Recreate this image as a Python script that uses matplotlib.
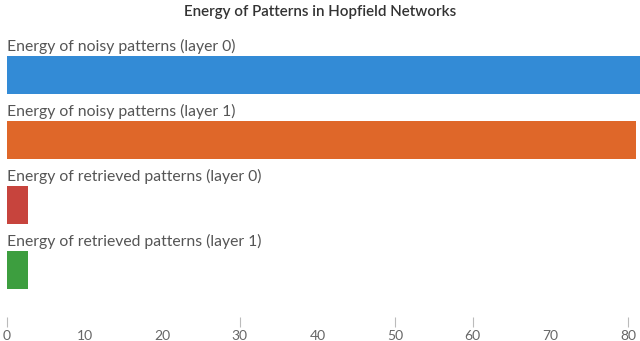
import matplotlib
matplotlib.use("Agg")
import matplotlib.pyplot as plt

categories = [
    "Energy of noisy patterns (layer 0)",
    "Energy of noisy patterns (layer 1)",
    "Energy of retrieved patterns (layer 0)",
    "Energy of retrieved patterns (layer 1)",
]
values = [84.0, 81.05, 2.7, 2.7]
colors = ["#338bd6", "#df6729", "#c7443d", "#3d9e3f"]
tick_values = [0, 10, 20, 30, 40, 50, 60, 70, 80]
tick_marks = [0, 30, 50, 60, 80]
title = "Energy of Patterns in Hopfield Networks"

plt.rcParams['font.family'] = ['Lato', 'DejaVu Sans']

fig = plt.figure(figsize=(6.4, 3.41), dpi=100)
ax = fig.add_axes([7 / 640, (341 - 317) / 341, 1 - 7 / 640, (317 - 30) / 341])

bar_h = 0.58
ypos = list(range(len(categories)))
ax.barh(ypos, values, height=bar_h, color=colors, edgecolor='none')

for y, lab in zip(ypos, categories):
    ax.text(0, y - bar_h / 2 - 0.08, lab, ha='left', va='baseline',
            fontsize=11.3, color='#555555')

ax.set_xlim(0, 81.55)
ax.set_ylim((317 - 75) / 65, (30 - 75) / 65)

ax.xaxis.remove_overlapping_locs = False
ax.set_xticks(tick_values)
ax.set_xticklabels([str(v) for v in tick_values])
ax.set_xticks(tick_marks, minor=True)
ax.tick_params(axis='x', which='major', length=0, pad=9, labelsize=10,
               labelcolor='#666666')
ax.tick_params(axis='x', which='minor', length=7, width=0.8, color='#bbbbbb',
               direction='out')
ax.set_yticks([])
for s in ax.spines.values():
    s.set_visible(False)

fig.text(0.5, 1 - 12 / 341, title, ha='center', va='center', fontsize=10.9,
         fontweight='semibold', color='#333333')

fig.savefig("out.png", dpi=100)
